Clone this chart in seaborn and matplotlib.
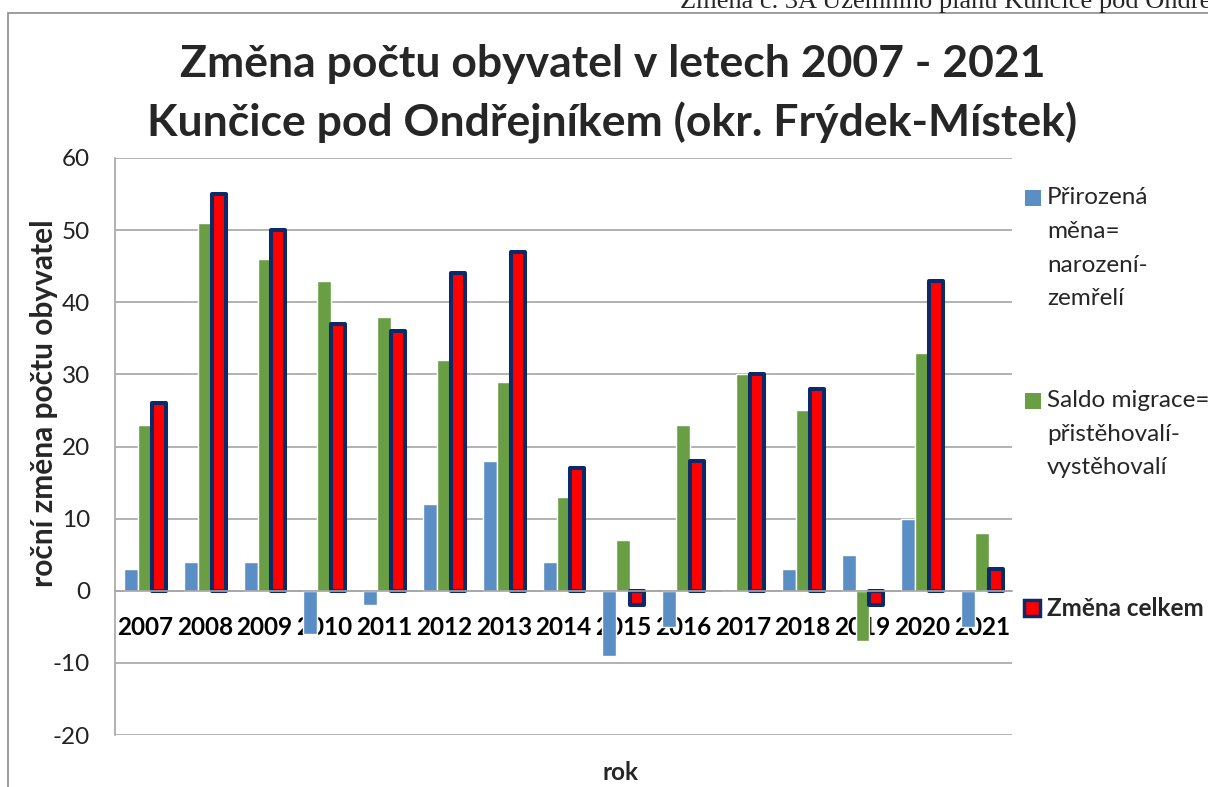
import pandas as pd
import numpy as np
import matplotlib
matplotlib.use("Agg")
import matplotlib.pyplot as plt
from matplotlib.patches import Rectangle
import seaborn as sns

# data
years = ["2007", "2008", "2009", "2010", "2011", "2012", "2013", "2014",
         "2015", "2016", "2017", "2018", "2019", "2020", "2021"]
prirozena = [3, 4, 4, -6, -2, 12, 18, 4, -9, -5, 0, 3, 5, 10, -5]
migrace = [23, 51, 46, 43, 38, 32, 29, 13, 7, 23, 30, 25, -7, 33, 8]
celkem = [26, 55, 50, 37, 36, 44, 47, 17, -2, 18, 30, 28, -2, 43, 3]

series_names = ["Přirozená měna= narození-zemřelí",
                "Saldo migrace= přistěhovalí-vystěhovalí",
                "Změna celkem"]
legend_lines = [["Přirozená", "měna=", "narození-", "zemřelí"],
                ["Saldo migrace=", "přistěhovalí-", "vystěhovalí"],
                ["Změna celkem"]]
colors = ["#5A8EC4", "#6A9E44", "#FF0000"]
edge_navy = "#0C2A6A"
grid_gray = "#A6A6A6"

df = pd.DataFrame({"rok": years,
                   series_names[0]: prirozena,
                   series_names[1]: migrace,
                   series_names[2]: celkem})
df = df.melt(id_vars="rok", var_name="rada", value_name="hodnota")

sns.set_theme(style="white")
plt.rcParams["font.family"] = ["Lato", "DejaVu Sans"]
plt.rcParams["axes.unicode_minus"] = False

W, H = 1208, 787
fig = plt.figure(figsize=(W / 100, H / 100), dpi=100)
ax = fig.add_axes([115 / W, 1 - 735 / H, 897 / W, 577 / H])

sns.barplot(data=df, x="rok", y="hodnota", hue="rada", hue_order=series_names,
            palette=dict(zip(series_names, colors)), width=0.7, saturation=1,
            errorbar=None, legend=False, ax=ax)

# thick navy outline on the total bars
for bar in ax.containers[2]:
    bar.set_edgecolor(edge_navy)
    bar.set_linewidth(2.9)
    bar.set_joinstyle("round")

ax.set_ylim(-20, 60)
ax.set_yticks(range(-20, 61, 10))
ax.yaxis.grid(True, color=grid_gray, lw=1.2)
ax.set_axisbelow(True)
for s in ["top", "right"]:
    ax.spines[s].set_visible(False)
ax.spines["left"].set_color(grid_gray)
ax.spines["left"].set_linewidth(1.2)
ax.spines["bottom"].set_position(("data", 0))
ax.spines["bottom"].set_color(grid_gray)
ax.spines["bottom"].set_linewidth(1.2)

ax.tick_params(axis="x", length=0, pad=18, labelsize=17.5, labelcolor="black")
ax.tick_params(axis="y", length=0, pad=18, labelsize=17.5, labelcolor="#222222")
for t in ax.get_xticklabels():
    t.set_fontweight("bold")

ax.set_ylabel("roční změna počtu obyvatel", fontsize=21.5, fontweight="bold")
ax.yaxis.set_label_coords(-0.064, 0.575)
ax.set_xlabel("rok", fontsize=17.5, fontweight="bold")
ax.xaxis.set_label_coords(0.563, -0.045)

# chart frame
fig.add_artist(Rectangle((8 / W, -0.05), 1.1, 1 - 13 / H + 0.05,
                         transform=fig.transFigure, fill=False,
                         edgecolor="#8C8C8C", lw=1.2))

# page header (cut off at the top, as in the source)
fig.text(680 / W, 1 - 8 / H, "Změna č. 3A Územního plánu Kunčice pod Ondřejníkem",
         family=["Liberation Serif"], fontsize=19, va="baseline", ha="left")

# title
fig.text(0.507, 1 - 77 / H, "Změna počtu obyvatel v letech 2007 - 2021",
         ha="center", va="baseline", fontsize=32, fontweight="bold")
fig.text(0.507, 1 - 137 / H, "Kunčice pod Ondřejníkem (okr. Frýdek-Místek)",
         ha="center", va="baseline", fontsize=32, fontweight="bold")

# legend, one square per series, text wrapped like the original
legend_y = [198, 401, 608]
for i, lines in enumerate(legend_lines):
    y0 = legend_y[i]
    sq = Rectangle(((1025 if i < 2 else 1024) / W, 1 - (y0 + 8) / H), 16 / W, 16 / H,
                   transform=fig.transFigure, facecolor=colors[i],
                   edgecolor=edge_navy if i == 2 else colors[i],
                   lw=2.5 if i == 2 else 0)
    fig.add_artist(sq)
    for j, line in enumerate(lines):
        fig.text(1047 / W, 1 - (y0 + j * 33.5) / H, line, fontsize=17.5,
                 va="center", ha="left",
                 fontweight="bold" if i == 2 else "normal")

fig.savefig("out.png", dpi=100)
